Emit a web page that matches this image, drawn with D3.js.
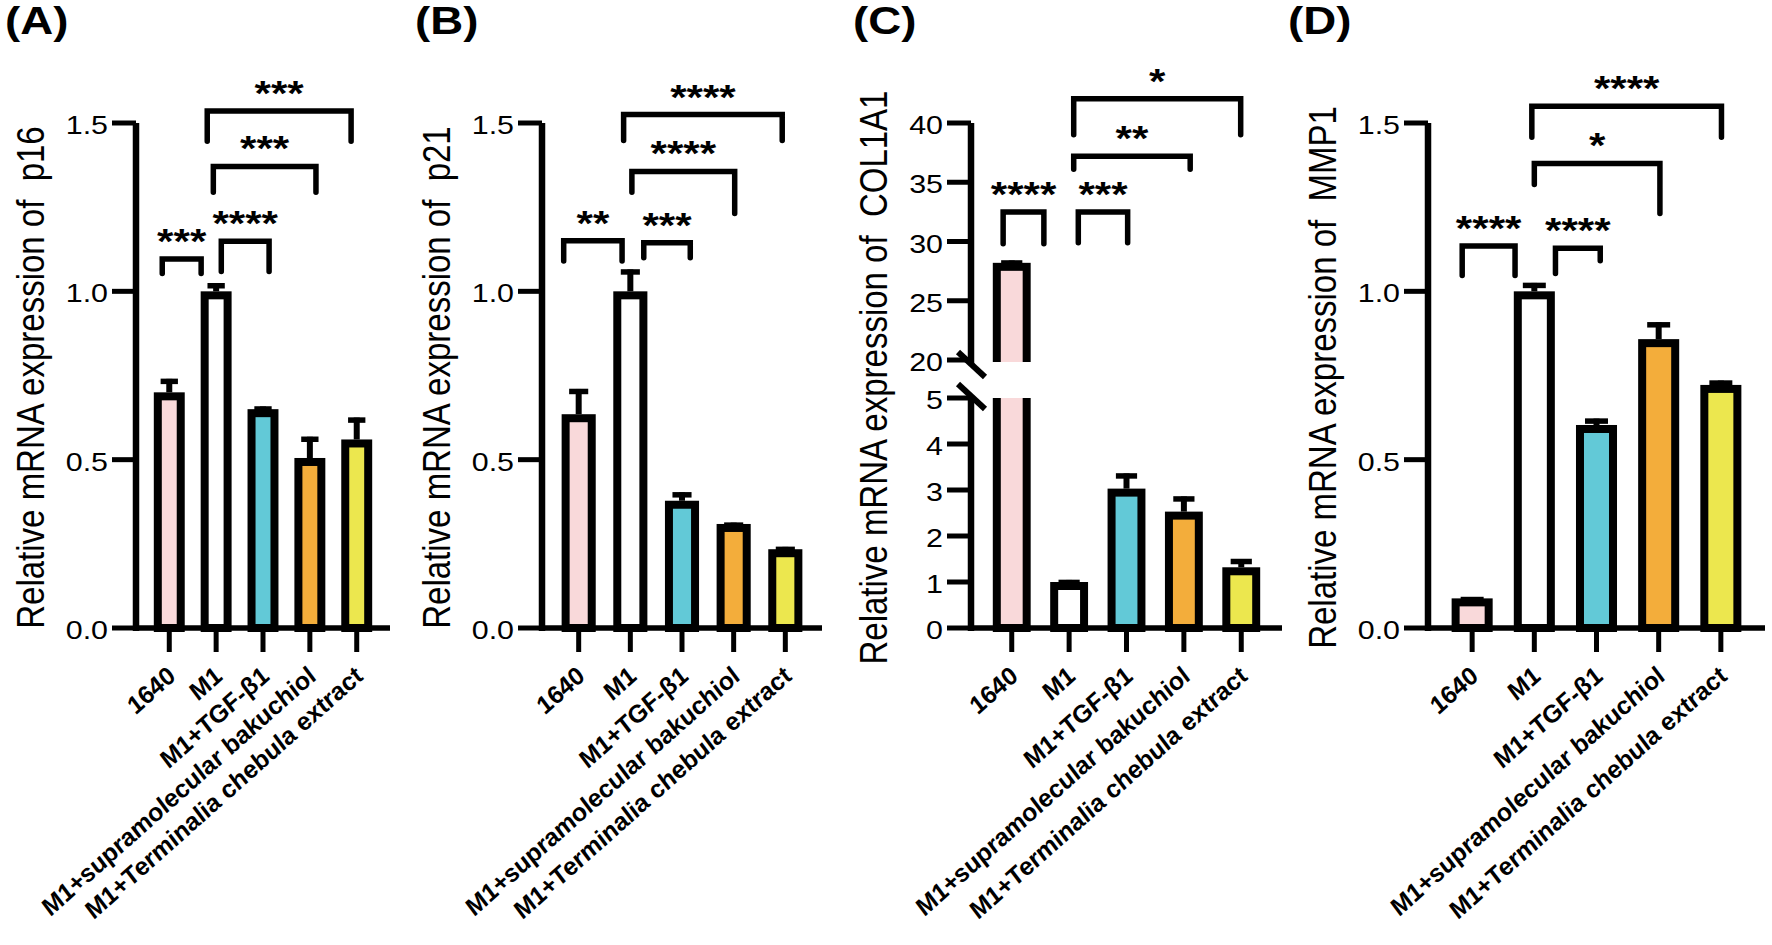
<!DOCTYPE html>
<html>
<head>
<meta charset="utf-8">
<script src="https://cdn.jsdelivr.net/npm/d3@7"></script>
<style>
  body { margin: 0; background: #fff; }
  svg { display: block; }
  text { font-family: "Liberation Sans", Arial, Helvetica, sans-serif; fill: #000; }
</style>
</head>
<body>
<div id="chart"></div>
<script>
// groups on the x axis (same in all four panels)
const categories = ["1640", "M1", "M1+TGF-β1", "M1+supramolecular bakuchiol", "M1+Terminalia chebula extract"];

// mean and error
const p16Mean = [0.70, 1.00, 0.65, 0.505, 0.56];
const p16Err = [0.04, 0.024, 0.008, 0.063, 0.065];
const p21Mean = [0.635, 1.00, 0.378, 0.309, 0.234];
const p21Err = [0.075, 0.065, 0.025, 0.004, 0.007];
const col1a1Mean = [28.2, 1.00, 3.03, 2.53, 1.32];
const col1a1Err = [0.2, 0.045, 0.33, 0.33, 0.18];
const mmp1Mean = [0.088, 1.00, 0.603, 0.858, 0.722];
const mmp1Err = [0.004, 0.025, 0.019, 0.05, 0.013];

// significance brackets: from/to in category units (0 = first bar), y and leg ends in data units
const p16Sig = [
  { from: -0.15, to: 0.68, y: 1.096, legs: [1.053, 1.053], label: "***" },
  { from: 1.11, to: 2.13, y: 1.149, legs: [1.059, 1.059], label: "****" },
  { from: 0.94, to: 3.13, y: 1.371, legs: [1.294, 1.294], label: "***" },
  { from: 0.81, to: 3.88, y: 1.536, legs: [1.446, 1.446], label: "***" }
];
const p21Sig = [
  { from: -0.29, to: 0.84, y: 1.15, legs: [1.09, 1.09], label: "**" },
  { from: 1.26, to: 2.16, y: 1.144, legs: [1.10, 1.10], label: "***" },
  { from: 1.03, to: 3.02, y: 1.356, legs: [1.294, 1.231], label: "****" },
  { from: 0.87, to: 3.94, y: 1.525, legs: [1.448, 1.448], label: "****" }
];
const col1a1Sig = [
  { from: -0.15, to: 0.56, y: 32.5, legs: [29.8, 29.8], label: "****" },
  { from: 1.16, to: 2.02, y: 32.5, legs: [29.9, 29.9], label: "***" },
  { from: 1.08, to: 3.11, y: 37.2, legs: [36.1, 36.1], label: "**" },
  { from: 1.08, to: 3.99, y: 42.05, legs: [39.0, 39.0], label: "*" }
];
const mmp1Sig = [
  { from: -0.16, to: 0.69, y: 1.135, legs: [1.047, 1.047], label: "****" },
  { from: 1.34, to: 2.06, y: 1.128, legs: [1.053, 1.091], label: "****" },
  { from: 1.0, to: 3.02, y: 1.38, legs: [1.317, 1.231], label: "*" },
  { from: 0.96, to: 4.01, y: 1.55, legs: [1.458, 1.458], label: "****" }
];

// y tick values
const ticksRel = [0, 0.5, 1.0, 1.5];
const ticksColHigh = [20, 25, 30, 35, 40];
const ticksColLow = [0, 1, 2, 3, 4, 5];

const barColors = ["#f9d9da", "#ffffff", "#62c9d7", "#f3ad3b", "#ece74e"];

// the original figure is a bit wider than tall, text included
const SX = 1.17;
const SX_LABEL = 1.12;
const BAR_STROKE = 8;
const Y0 = 628, YTOP = 123;

const panels = [
  { letter: "(A)", gene: "p16", mean: p16Mean, err: p16Err, sig: p16Sig, axisX: 136, xEnd: 390, letterX: 5,
    segments: [{ domain: [0, 1.5], range: [Y0, YTOP], ticks: ticksRel, fmt: ".1f", clip: [0, 945] }] },
  { letter: "(B)", gene: "p21", mean: p21Mean, err: p21Err, sig: p21Sig, axisX: 542, xEnd: 822, letterX: 415,
    segments: [{ domain: [0, 1.5], range: [Y0, YTOP], ticks: ticksRel, fmt: ".1f", clip: [0, 945] }] },
  { letter: "(C)", gene: "COL1A1", mean: col1a1Mean, err: col1a1Err, sig: col1a1Sig, axisX: 971, xEnd: 1282, letterX: 853,
    segments: [
      { domain: [20, 40], range: [360, YTOP], ticks: ticksColHigh, fmt: "d", clip: [0, 362] },
      { domain: [0, 5], range: [Y0, 398], ticks: ticksColLow, fmt: "d", clip: [398, 945] }
    ] },
  { letter: "(D)", gene: "MMP1", mean: mmp1Mean, err: mmp1Err, sig: mmp1Sig, axisX: 1428, xEnd: 1765, letterX: 1288,
    segments: [{ domain: [0, 1.5], range: [Y0, YTOP], ticks: ticksRel, fmt: ".1f", clip: [0, 945] }] }
];

const svg = d3.select("#chart").append("svg")
    .attr("width", 1772)
    .attr("height", 945);

svg.append("rect")
    .attr("width", 1772)
    .attr("height", 945)
    .attr("fill", "#fff");

function stretch(x, y, rot, sx = SX) {
    return `translate(${x},${y}) scale(${sx},1)` + (rot ? ` rotate(${rot})` : "");
}

panels.forEach((p, pi) => {
    const g = svg.append("g").attr("class", "panel");

    const x = d3.scaleBand()
        .domain(d3.range(categories.length))
        .range([p.axisX, p.xEnd])
        .paddingInner(0.34)
        .paddingOuter(0.38);
    const bw = x.bandwidth();
    const cx = i => x(i) + bw / 2;
    const fx = f => cx(0) + f * x.step();

    // Bars and error bars, one layer per axis segment
    p.segments.forEach((s, si) => {
        const y = d3.scaleLinear().domain(s.domain).range(s.range);
        const clipId = `clip-${pi}-${si}`;
        g.append("clipPath").attr("id", clipId)
          .append("rect")
            .attr("x", 0).attr("y", s.clip[0])
            .attr("width", 1772).attr("height", s.clip[1] - s.clip[0]);

        const layer = g.append("g").attr("clip-path", `url(#${clipId})`);

        layer.selectAll(".bar")
            .data(p.mean)
            .join("rect")
            .attr("class", "bar")
            .attr("x", (d, i) => x(i) + BAR_STROKE / 2)
            .attr("width", bw - BAR_STROKE)
            .attr("y", d => y(d) + BAR_STROKE / 2)
            .attr("height", d => Math.max(0, y(0) - y(d) - BAR_STROKE / 2))
            .attr("fill", (d, i) => barColors[i])
            .attr("stroke", "#000")
            .attr("stroke-width", BAR_STROKE);

        layer.selectAll(".err")
            .data(p.mean)
            .join("line")
            .attr("class", "err")
            .attr("x1", (d, i) => cx(i))
            .attr("x2", (d, i) => cx(i))
            .attr("y1", d => y(d))
            .attr("y2", (d, i) => y(d + p.err[i]))
            .attr("stroke", "#000")
            .attr("stroke-width", 6);

        layer.selectAll(".cap")
            .data(p.mean)
            .join("line")
            .attr("class", "cap")
            .attr("x1", (d, i) => cx(i) - bw * 0.28)
            .attr("x2", (d, i) => cx(i) + bw * 0.28)
            .attr("y1", (d, i) => y(d + p.err[i]) + 2.5)
            .attr("y2", (d, i) => y(d + p.err[i]) + 2.5)
            .attr("stroke", "#000")
            .attr("stroke-width", 5.5);
    });

    // Y axis, ticks and labels
    const yLabels = g.append("g");
    const nSeg = p.segments.length;
    p.segments.forEach((s, si) => {
        const y = d3.scaleLinear().domain(s.domain).range(s.range);
        const top = si > 0 ? s.range[1] - 2 : s.range[1];
        const bottom = si < nSeg - 1 ? s.range[0] + 4 : s.range[0] + 3;
        g.append("line")
            .attr("x1", p.axisX).attr("x2", p.axisX)
            .attr("y1", top).attr("y2", bottom)
            .attr("stroke", "#000").attr("stroke-width", 6.5);

        g.selectAll(null)
            .data(s.ticks)
            .join("line")
            .attr("x1", p.axisX - 24).attr("x2", p.axisX)
            .attr("y1", d => y(d)).attr("y2", d => y(d))
            .attr("stroke", "#000").attr("stroke-width", 5);

        yLabels.selectAll(null)
            .data(s.ticks)
            .join("text")
            .attr("transform", d => stretch(p.axisX - 28, y(d) + 2))
            .attr("text-anchor", "end")
            .attr("dy", "0.35em")
            .style("font-size", "26px")
            .text(d => d3.format(s.fmt)(d));

        // break marks between segments
        if (si < nSeg - 1) {
            [s.range[0] + 4, p.segments[si + 1].range[1] - 2].forEach(yy => {
                g.append("line")
                    .attr("x1", p.axisX - 13).attr("x2", p.axisX + 14)
                    .attr("y1", yy - 12).attr("y2", yy + 13)
                    .attr("stroke", "#000").attr("stroke-width", 6);
            });
        }
    });

    // X axis, ticks and rotated labels
    g.append("line")
        .attr("x1", p.axisX - 3).attr("x2", p.xEnd)
        .attr("y1", Y0).attr("y2", Y0)
        .attr("stroke", "#000").attr("stroke-width", 5.5);

    g.selectAll(null)
        .data(categories)
        .join("line")
        .attr("x1", (d, i) => cx(i)).attr("x2", (d, i) => cx(i))
        .attr("y1", Y0).attr("y2", Y0 + 24)
        .attr("stroke", "#000").attr("stroke-width", 5);

    g.selectAll(null)
        .data(categories)
        .join("text")
        .attr("transform", (d, i) => stretch(cx(i) + 2, Y0 + 44, -45, SX_LABEL))
        .attr("text-anchor", "end")
        .attr("dy", "0.35em")
        .style("font-size", "23.5px")
        .style("font-weight", "bold")
        .style("font-style", "italic")
        .text(d => d);

    // Significance brackets, on the top segment's scale
    const ys = d3.scaleLinear().domain(p.segments[0].domain).range(p.segments[0].range);
    p.sig.forEach(b => {
        const x1 = fx(b.from), x2 = fx(b.to);
        g.append("path")
            .attr("d", `M${x1},${ys(b.legs[0])}V${ys(b.y)}H${x2}V${ys(b.legs[1])}`)
            .attr("fill", "none")
            .attr("stroke", "#000")
            .attr("stroke-width", 5.5)
            .attr("stroke-linecap", "round");
        g.append("text")
            .attr("transform", stretch((x1 + x2) / 2, ys(b.y) - 26 + 20))
            .attr("text-anchor", "middle")
            .style("font-size", "36px")
            .style("font-weight", "bold")
            .text(b.label);
    });

    // Y title, placed left of the tick labels
    const left = yLabels.node().getBBox().x;
    g.append("text")
        .attr("transform", stretch(left - 22, (YTOP + Y0) / 2 + 2, -90))
        .attr("text-anchor", "middle")
        .style("font-size", "33px")
        .style("white-space", "pre")
        .text(`Relative mRNA expression of  ${p.gene}`);

    // Panel letter
    g.append("text")
        .attr("transform", stretch(p.letterX, 34))
        .style("font-size", "39px")
        .style("font-weight", "bold")
        .text(p.letter);
});
</script>
</body>
</html>
